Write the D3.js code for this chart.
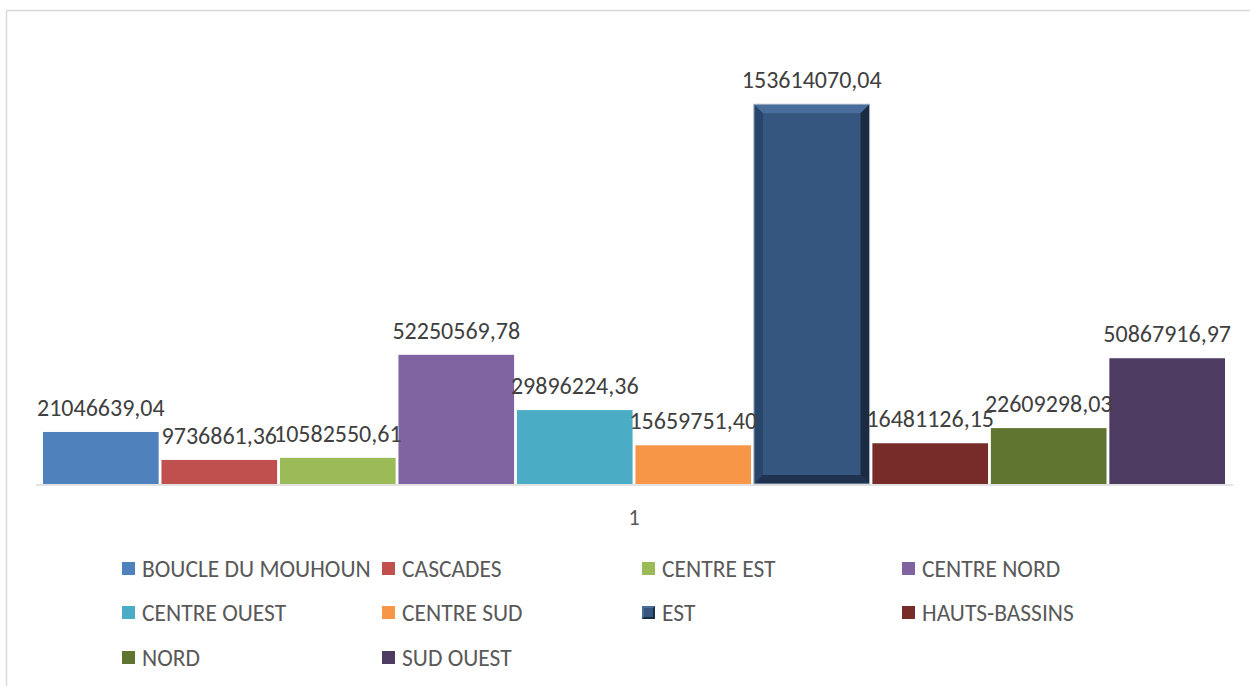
<!DOCTYPE html>
<html>
<head>
<meta charset="utf-8">
<script src="https://cdn.jsdelivr.net/npm/d3@7"></script>
<style>
  body { margin: 0; background: #fff; }
  text { font-family: Calibri, Carlito, Lato, "Noto Sans", sans-serif; }
</style>
</head>
<body>
<div id="chart"></div>
<script>
// regions (series) and their values
const regions = ['BOUCLE DU MOUHOUN', 'CASCADES', 'CENTRE EST', 'CENTRE NORD', 'CENTRE OUEST',
  'CENTRE SUD', 'EST', 'HAUTS-BASSINS', 'NORD', 'SUD OUEST']
const values = [21046639.04, 9736861.36, 10582550.61, 52250569.78, 29896224.36,
  15659751.40, 153614070.04, 16481126.15, 22609298.03, 50867916.97]
const colors = ['#4F81BD', '#C0504D', '#9BBB59', '#8064A2', '#4BACC6',
  '#F79646', '#34567F', '#772C2A', '#5F7530', '#4D3B62']
const category = '1'

const W = 1250, H = 686
const svg = d3.select('#chart').append('svg').attr('width', W).attr('height', H)

// chart border (runs off the right and bottom)
svg.append('rect').attr('x', 6.5).attr('y', 10.5).attr('width', W + 20).attr('height', H + 20)
  .attr('fill', 'none').attr('stroke', '#d9d9d9').attr('stroke-width', 1.5)

const x = d3.scaleBand().domain(regions).range([43, 1225]).paddingInner(0.024)
const y = d3.scaleLinear().domain([0, 180000000]).range([484, 39])

const fmt = v => v.toFixed(2).replace('.', ',')

const bars = svg.append('g')
regions.forEach((r, i) => {
  const x0 = x(r), w = x.bandwidth(), y0 = y(values[i]), h = y(0) - y(values[i])
  if (r === 'EST') {
    // bevelled bar
    const b = 9
    const g = bars.append('g')
    g.append('rect').attr('x', x0).attr('y', y0).attr('width', w).attr('height', h).attr('fill', colors[i])
    const poly = (pts, fill) => g.append('polygon').attr('points', pts.map(p => p.join(',')).join(' ')).attr('fill', fill)
    poly([[x0, y0], [x0 + w, y0], [x0 + w - b, y0 + b], [x0 + b, y0 + b]], '#4A6E9B')
    poly([[x0, y0], [x0 + b, y0 + b], [x0 + b, y0 + h - b], [x0, y0 + h]], '#28466B')
    poly([[x0 + w, y0], [x0 + w, y0 + h], [x0 + w - b, y0 + h - b], [x0 + w - b, y0 + b]], '#1B2B42')
    poly([[x0, y0 + h], [x0 + b, y0 + h - b], [x0 + w - b, y0 + h - b], [x0 + w, y0 + h]], '#1F3250')
    g.append('rect').attr('x', x0).attr('y', y0).attr('width', w).attr('height', h)
      .attr('fill', 'none').attr('stroke', '#a6b4c6').attr('stroke-width', 1)
  } else {
    bars.append('rect').attr('x', x0).attr('y', y0).attr('width', w).attr('height', h).attr('fill', colors[i])
  }
})

// baseline
svg.append('line').attr('x1', 36).attr('x2', 1233).attr('y1', 485).attr('y2', 485)
  .attr('stroke', '#d9d9d9').attr('stroke-width', 1.5)

// data labels
svg.append('g').selectAll('text').data(regions).join('text')
  .attr('x', r => x(r) + x.bandwidth() / 2)
  .attr('y', (r, i) => y(values[i]) - 16)
  .attr('text-anchor', 'middle')
  .attr('font-size', 24)
  .attr('fill', '#404040')
  .text((r, i) => fmt(values[i]))

// category label
svg.append('text').attr('x', 634).attr('y', 525).attr('text-anchor', 'middle')
  .attr('font-size', 22).attr('fill', '#595959').text(category)

// legend
const colX = [122, 382, 642, 902], rowY = [569, 613, 658]
const leg = svg.append('g')
regions.forEach((r, i) => {
  const lx = colX[i % 4], ly = rowY[Math.floor(i / 4)]
  if (r === 'EST') {
    leg.append('rect').attr('x', lx).attr('y', ly - 7).attr('width', 13).attr('height', 13).attr('fill', '#1B2B42')
    leg.append('polygon').attr('points', `${lx},${ly - 7} ${lx + 13},${ly - 7} ${lx},${ly + 6}`).attr('fill', '#4A6E9B')
    leg.append('rect').attr('x', lx + 2).attr('y', ly - 5).attr('width', 9).attr('height', 9).attr('fill', colors[i])
  } else {
    leg.append('rect').attr('x', lx).attr('y', ly - 7).attr('width', 13).attr('height', 13).attr('fill', colors[i])
  }
  leg.append('text').attr('x', lx + 20).attr('y', ly + 8)
    .attr('font-size', 23.5).attr('fill', '#595959').text(r)
})
</script>
</body>
</html>
